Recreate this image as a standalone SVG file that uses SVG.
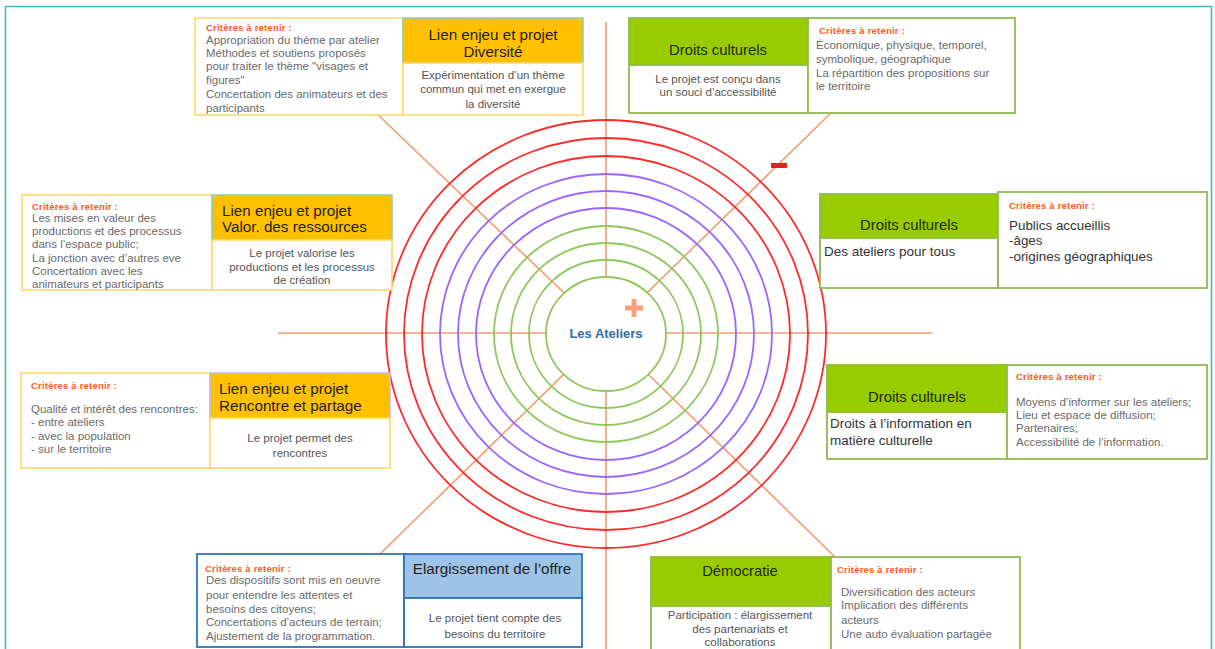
<svg xmlns="http://www.w3.org/2000/svg" width="1215" height="649" viewBox="0 0 1215 649">
<style>
text{font-family:"Liberation Sans",Arial,sans-serif}
.ch{font-size:9.5px;font-weight:bold;fill:#ff5a1e;letter-spacing:0.2px}
.cr{font-size:11.5px;fill:#6a6a6a}
.crd{font-size:13.4px;fill:#333}
.tt{font-size:15.2px;fill:#1e1e1e}
.tg{font-size:14.8px;fill:#1e2a00}
.bd{font-size:11.5px;fill:#555;text-anchor:middle}
.bdd{font-size:13.5px;fill:#333}
.c{text-anchor:middle}
.yb{fill:#fff;stroke:#ffd966;stroke-width:1.6}
.yt{fill:#ffc000;stroke:#8fd0b8;stroke-width:1.6}
.gb{fill:#fff;stroke:#8fba4f;stroke-width:1.8}
.gt{fill:#99cc00;stroke:#8fba4f;stroke-width:1.8}
.bb{fill:#fff;stroke:#2e75b6;stroke-width:1.8}
.bt{fill:#9dc3e6;stroke:#2e75b6;stroke-width:1.8}
.ray{stroke:#f59a6e;stroke-width:1.6;fill:none}
.rr{fill:none;stroke:#ff2a2a;stroke-width:1.8}
.rp{fill:none;stroke:#9966ff;stroke-width:1.8}
.rg{fill:none;stroke:#8dc85a;stroke-width:1.8}
</style>
<rect width="1215" height="649" fill="#fff"/>
<path d="M5.5 649 V6.5 H1211.5 V649" fill="none" stroke="#3dbfae" stroke-width="1.6"/>

<g id="connectors">
<line class="ray" x1="606" y1="22" x2="606" y2="649"/>
<line class="ray" x1="278" y1="333" x2="932" y2="333"/>
<line class="ray" x1="375" y1="112" x2="606" y2="333"/>
<line class="ray" x1="836" y1="108" x2="606" y2="333"/>
<line class="ray" x1="378" y1="556" x2="606" y2="333"/>
<line class="ray" x1="835" y1="557" x2="606" y2="333"/>
</g>

<g id="center">
<ellipse class="rr" cx="606" cy="334" rx="220" ry="214"/>
<ellipse class="rr" cx="606" cy="334" rx="202" ry="196"/>
<ellipse class="rr" cx="606" cy="334" rx="184" ry="178"/>
<ellipse class="rp" cx="606" cy="334" rx="166" ry="160"/>
<ellipse class="rp" cx="606" cy="334" rx="148" ry="143"/>
<ellipse class="rp" cx="606" cy="334" rx="130" ry="126"/>
<ellipse class="rg" cx="606" cy="334" rx="112" ry="108"/>
<ellipse class="rg" cx="606" cy="334" rx="95" ry="91"/>
<ellipse class="rg" cx="606" cy="334" rx="77" ry="74"/>
<ellipse cx="606" cy="334" rx="60" ry="57" fill="#fff" stroke="#8dc85a" stroke-width="1.8"/>
<text x="606" y="337.5" class="c" font-size="13" font-weight="bold" fill="#2f6ea8">Les Ateliers</text>
<path d="M634 299 V317 M625 308 H643" stroke="#f7a07a" stroke-width="5"/>
<rect x="771" y="163" width="16" height="5" fill="#ee1c1c"/>
</g>

<g id="diversite">
<rect class="yb" x="195" y="18" width="208" height="97"/>
<rect class="yt" x="403" y="18" width="180" height="45"/>
<rect class="yb" x="403" y="63" width="180" height="52"/>
<text class="ch" x="206" y="30.5">Critères à retenir :</text>
<text class="cr" x="206" y="44">Appropriation du thème par atelier</text>
<text class="cr" x="206" y="57">Méthodes et soutiens proposés</text>
<text class="cr" x="206" y="70">pour traiter le thème "visages et</text>
<text class="cr" x="206" y="83.5">figures"</text>
<text class="cr" x="206" y="97.5">Concertation des animateurs et des</text>
<text class="cr" x="206" y="111.5">participants</text>
<text class="tt c" x="493" y="39.5">Lien enjeu et projet</text>
<text class="tt c" x="493" y="57">Diversité</text>
<text class="bd" x="493" y="79">Expérimentation d’un thème</text>
<text class="bd" x="493" y="92.5">commun qui met en exergue</text>
<text class="bd" x="493" y="107.5">la diversité</text>
</g>

<g id="accessibilite">
<rect class="gt" x="629" y="18" width="179" height="47"/>
<rect class="gb" x="629" y="65" width="179" height="48"/>
<rect class="gb" x="808" y="18" width="207" height="95"/>
<text class="tg c" x="718" y="55">Droits culturels</text>
<text class="bd" x="718" y="82.5" font-size="13" fill="#333">Le projet est conçu dans</text>
<text class="bd" x="718" y="96" font-size="13" fill="#333">un souci d’accessibilité</text>
<text class="ch" x="819" y="33.5">Critères à retenir :</text>
<text class="cr" x="816" y="49">Économique, physique, temporel,</text>
<text class="cr" x="816" y="63">symbolique, géographique</text>
<text class="cr" x="816" y="76.5">La répartition des propositions sur</text>
<text class="cr" x="816" y="90">le territoire</text>
</g>

<g id="valorisation">
<rect class="yb" x="22" y="195" width="190" height="95"/>
<rect class="yt" x="212" y="195" width="180" height="45"/>
<rect class="yb" x="212" y="240" width="180" height="50"/>
<text class="ch" x="32" y="209.5">Critères à retenir :</text>
<text class="cr" x="32" y="221.5">Les mises en valeur des</text>
<text class="cr" x="32" y="235">productions et des processus</text>
<text class="cr" x="32" y="248">dans l’espace public;</text>
<text class="cr" x="32" y="261.5">La jonction avec d’autres eve</text>
<text class="cr" x="32" y="275">Concertation avec les</text>
<text class="cr" x="32" y="288">animateurs et participants</text>
<text class="tt" x="222" y="216">Lien enjeu et projet</text>
<text class="tt" x="222" y="232">Valor. des ressources</text>
<text class="bd" x="302" y="257">Le projet valorise les</text>
<text class="bd" x="302" y="271">productions et les processus</text>
<text class="bd" x="302" y="283.5">de création</text>
</g>

<g id="ateliers-pour-tous">
<rect class="gt" x="820" y="194" width="178" height="44"/>
<rect class="gb" x="820" y="238" width="178" height="50"/>
<rect class="gb" x="998" y="192" width="209" height="96"/>
<text class="tg c" x="909" y="230">Droits culturels</text>
<text class="bdd" x="824" y="256">Des ateliers pour tous</text>
<text class="ch" x="1009" y="208.5">Critères à retenir :</text>
<text class="crd" x="1009" y="229.5">Publics accueillis</text>
<text class="crd" x="1009" y="244.5">-âges</text>
<text class="crd" x="1009" y="260.5">-origines géographiques</text>
</g>

<g id="rencontre">
<rect class="yb" x="21" y="373" width="189" height="95"/>
<rect class="yt" x="210" y="373" width="180" height="45" style="stroke:#c9b8f0"/>
<rect class="yb" x="210" y="418" width="180" height="50"/>
<text class="ch" x="31" y="389">Critères à retenir :</text>
<text class="cr" x="31" y="412.5">Qualité et intérêt des rencontres:</text>
<text class="cr" x="31" y="426">- entre ateliers</text>
<text class="cr" x="31" y="440">- avec la population</text>
<text class="cr" x="31" y="453">- sur le territoire</text>
<text class="tt" x="219" y="393.5">Lien enjeu et projet</text>
<text class="tt" x="219" y="411">Rencontre et partage</text>
<text class="bd" x="300" y="441.5" font-size="13.5" fill="#333">Le projet permet des</text>
<text class="bd" x="300" y="457" font-size="13.5" fill="#333">rencontres</text>
</g>

<g id="information">
<rect class="gt" x="827" y="365" width="180" height="47"/>
<rect class="gb" x="827" y="412" width="180" height="47"/>
<rect class="gb" x="1007" y="365" width="200" height="94"/>
<text class="tg c" x="917" y="401.5">Droits culturels</text>
<text class="bdd" x="830" y="428">Droits à l’information en</text>
<text class="bdd" x="830" y="444.5">matière culturelle</text>
<text class="ch" x="1016" y="379.5">Critères à retenir :</text>
<text class="cr" x="1016" y="405.5">Moyens d’informer sur les ateliers;</text>
<text class="cr" x="1016" y="419">Lieu et espace de diffusion;</text>
<text class="cr" x="1016" y="432">Partenaires;</text>
<text class="cr" x="1016" y="445.5">Accessibilité de l’information.</text>
</g>

<g id="elargissement">
<rect class="bb" x="197" y="554" width="207" height="93"/>
<rect class="bt" x="404" y="554" width="178" height="44"/>
<rect class="bb" x="404" y="598" width="178" height="49"/>
<text class="ch" x="205" y="571.5">Critères à retenir :</text>
<text class="cr" x="206" y="584" font-size="11.8">Des dispositifs sont mis en oeuvre</text>
<text class="cr" x="206" y="598.5" font-size="11.8">pour entendre les attentes et</text>
<text class="cr" x="206" y="612.5" font-size="11.8">besoins des citoyens;</text>
<text class="cr" x="206" y="626" font-size="11.8">Concertations d’acteurs de terrain;</text>
<text class="cr" x="206" y="640" font-size="11.8">Ajustement de la programmation.</text>
<text class="tt c" x="492" y="573.5">Elargissement de l’offre</text>
<text class="bd" x="495" y="622">Le projet tient compte des</text>
<text class="bd" x="495" y="637.5">besoins du territoire</text>
</g>

<g id="democratie">
<rect class="gt" x="651" y="557" width="180" height="49"/>
<rect class="gb" x="651" y="606" width="180" height="50"/>
<rect class="gb" x="831" y="557" width="189" height="100"/>
<text class="tg c" x="740" y="576">Démocratie</text>
<text class="bd" x="740" y="619">Participation : élargissement</text>
<text class="bd" x="740" y="632.5">des partenariats et</text>
<text class="bd" x="740" y="646">collaborations</text>
<text class="ch" x="837" y="572.5">Critères à retenir :</text>
<text class="cr" x="841" y="595.5">Diversification des acteurs</text>
<text class="cr" x="841" y="609">Implication des différents</text>
<text class="cr" x="841" y="624">acteurs</text>
<text class="cr" x="841" y="637.5">Une auto évaluation partagée</text>
</g>
</svg>
